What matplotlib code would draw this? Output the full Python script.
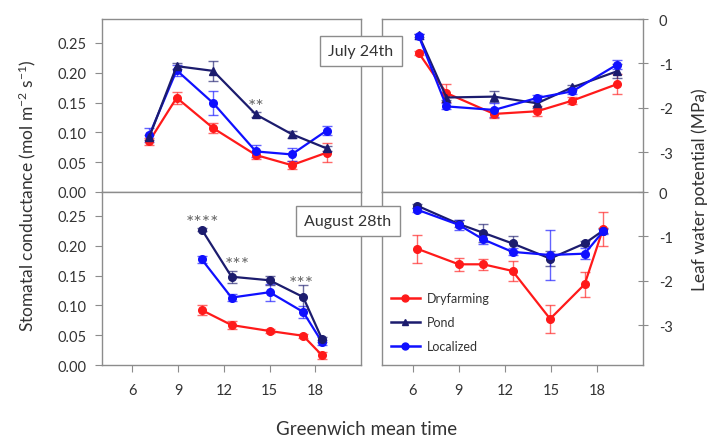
import matplotlib
matplotlib.use("Agg")
import matplotlib.pyplot as plt
from matplotlib.lines import Line2D
from matplotlib.colors import to_rgba

plt.rcParams['font.family'] = ['Lato', 'DejaVu Sans']
plt.rcParams['mathtext.fontset'] = 'custom'
plt.rcParams['mathtext.rm'] = 'Lato'
plt.rcParams['mathtext.it'] = 'Lato:italic'
plt.rcParams['mathtext.bf'] = 'Lato:bold'

# ---------------- data ----------------
series = ["Dryfarming", "Pond", "Localized"]

# July 24th - stomatal conductance
jul_gs_time = [7.1, 8.9, 11.3, 14.1, 16.45, 18.75]
jul_gs_dry = [0.085, 0.158, 0.107, 0.062, 0.045, 0.066]
jul_gs_dry_err = [0.006, 0.010, 0.008, 0.006, 0.007, 0.016]
jul_gs_pond = [0.092, 0.211, 0.203, 0.130, 0.097, 0.073]
jul_gs_pond_err = [0.004, 0.005, 0.017, 0.004, 0.006, 0.004]
jul_gs_loc = [0.095, 0.204, 0.149, 0.068, 0.063, 0.103]
jul_gs_loc_err = [0.012, 0.009, 0.020, 0.010, 0.011, 0.008]

# July 24th - leaf water potential
jul_lwp_time = [6.4, 8.2, 11.3, 14.1, 16.4, 19.3]
jul_lwp_dry = [-0.77, -1.67, -2.14, -2.08, -1.84, -1.47]
jul_lwp_dry_err = [0.05, 0.20, 0.10, 0.11, 0.08, 0.22]
jul_lwp_pond = [-0.37, -1.77, -1.75, -1.90, -1.54, -1.18]
jul_lwp_pond_err = [0.04, 0.06, 0.13, 0.10, 0.06, 0.16]
jul_lwp_loc = [-0.39, -1.97, -2.05, -1.78, -1.63, -1.03]
jul_lwp_loc_err = [0.05, 0.07, 0.15, 0.07, 0.07, 0.10]

# August 28th - stomatal conductance
aug_gs_time = [10.55, 12.5, 15.0, 17.2, 18.45]
aug_gs_dry = [0.092, 0.067, 0.057, 0.049, 0.016]
aug_gs_dry_err = [0.009, 0.006, 0.004, 0.003, 0.006]
aug_gs_pond = [0.227, 0.148, 0.142, 0.114, 0.043]
aug_gs_pond_err = [0.003, 0.010, 0.008, 0.020, 0.004]
aug_gs_loc = [0.177, 0.113, 0.122, 0.089, 0.038]
aug_gs_loc_err = [0.006, 0.006, 0.014, 0.010, 0.004]

# August 28th - leaf water potential
aug_lwp_time = [6.3, 9.0, 10.6, 12.5, 14.95, 17.2, 18.4]
aug_lwp_dry = [-1.28, -1.63, -1.63, -1.78, -2.86, -2.08, -0.83]
aug_lwp_dry_err = [0.32, 0.14, 0.12, 0.23, 0.32, 0.28, 0.38]
aug_lwp_pond = [-0.31, -0.72, -0.92, -1.16, -1.50, -1.16, -0.87]
aug_lwp_pond_err = [0.04, 0.08, 0.20, 0.16, 0.17, 0.06, 0.05]
aug_lwp_loc = [-0.40, -0.74, -1.07, -1.35, -1.42, -1.39, -0.89]
aug_lwp_loc_err = [0.04, 0.12, 0.10, 0.08, 0.56, 0.12, 0.05]

# significance marks (time, value, text)
jul_sig = [(14.1, 0.150, "**")]
aug_sig = [(10.6, 0.245, "****"), (12.9, 0.174, "***"), (17.1, 0.142, "***")]

x_ticks = [6, 9, 12, 15, 18]
top_ticks = [6.9, 9.7, 12.5, 15.4, 18.2]
gs_ticks = [0.00, 0.05, 0.10, 0.15, 0.20, 0.25]
lwp_ticks = [0, -1, -2, -3]

# ---------------- style ----------------
C_DRY = "#ff1a1a"
C_POND = "#1c1c6e"
C_LOC = "#1010ff"
SPINE = "#8c8c8c"
TXT = "#333333"

W, H = 707, 439
fig = plt.figure(figsize=(W / 100, H / 100), dpi=100)


def ax_at(x0, y0, x1, y1):
    return fig.add_axes([x0 / W, 1 - y1 / H, (x1 - x0) / W, (y1 - y0) / H])


ax_tl = ax_at(102, 20, 361, 193)
ax_bl = ax_at(102, 193, 361, 366)
ax_tr = ax_at(382, 20, 643, 193)
ax_br = ax_at(382, 193, 643, 366)


def draw(ax, t, vals, errs, color, marker):
    ax.errorbar(t, vals, yerr=errs, color=color, marker=marker, markersize=5.5,
                lw=1.6, elinewidth=1.0, capsize=3.5, capthick=1.0,
                ecolor=to_rgba(color, 0.65), zorder=3)


def style(ax, right=False, top=False):
    for s in ax.spines.values():
        s.set_color(SPINE)
        s.set_linewidth(1.0)
    ax.set_xlim(4, 21)
    if top:
        ax.set_xticks(top_ticks)
        ax.set_xticklabels([])
    else:
        ax.set_xticks(x_ticks)
        ax.set_xticklabels([str(v) for v in x_ticks])
    ax.tick_params(axis='x', direction='out', length=5, color=SPINE,
                   labelsize=10.5, labelcolor=TXT, pad=8)
    if right:
        ax.set_ylim(-3.9, 0)
        ax.yaxis.tick_right()
        ax.set_yticks(lwp_ticks)
        ax.set_yticklabels(["0", "-1", "-2", "-3"])
        ax.tick_params(axis='y', direction='inout', length=7, color=SPINE,
                       labelsize=10.5, labelcolor=TXT, pad=8)
    else:
        ax.set_ylim(0, 0.29)
        ax.set_yticks(gs_ticks)
        ax.set_yticklabels([f"{v:.2f}" for v in gs_ticks])
        ax.tick_params(axis='y', direction='out', length=5, color=SPINE,
                       labelsize=10.5, labelcolor=TXT, pad=6)


def stars(ax, marks):
    for tx, ty, s in marks:
        ax.text(tx, ty - 0.006, s, ha='center', va='center', fontsize=14,
                color='#666666')


# top-left
draw(ax_tl, jul_gs_time, jul_gs_dry, jul_gs_dry_err, C_DRY, 'o')
draw(ax_tl, jul_gs_time, jul_gs_loc, jul_gs_loc_err, C_LOC, 'o')
draw(ax_tl, jul_gs_time, jul_gs_pond, jul_gs_pond_err, C_POND, '^')
stars(ax_tl, jul_sig)
style(ax_tl, top=True)

# bottom-left
draw(ax_bl, aug_gs_time, aug_gs_dry, aug_gs_dry_err, C_DRY, 'o')
draw(ax_bl, aug_gs_time, aug_gs_loc, aug_gs_loc_err, C_LOC, 'o')
draw(ax_bl, aug_gs_time, aug_gs_pond, aug_gs_pond_err, C_POND, 'o')
stars(ax_bl, aug_sig)
style(ax_bl)

# top-right
draw(ax_tr, jul_lwp_time, jul_lwp_dry, jul_lwp_dry_err, C_DRY, 'o')
draw(ax_tr, jul_lwp_time, jul_lwp_pond, jul_lwp_pond_err, C_POND, '^')
draw(ax_tr, jul_lwp_time, jul_lwp_loc, jul_lwp_loc_err, C_LOC, 'o')
style(ax_tr, right=True, top=True)

# bottom-right
draw(ax_br, aug_lwp_time, aug_lwp_dry, aug_lwp_dry_err, C_DRY, 'o')
draw(ax_br, aug_lwp_time, aug_lwp_pond, aug_lwp_pond_err, C_POND, 'o')
draw(ax_br, aug_lwp_time, aug_lwp_loc, aug_lwp_loc_err, C_LOC, 'o')
style(ax_br, right=True)

handles = [Line2D([], [], color=C_DRY, marker='o', markersize=5, lw=1.8),
           Line2D([], [], color=C_POND, marker='^', markersize=5, lw=1.8),
           Line2D([], [], color=C_LOC, marker='o', markersize=5, lw=1.8)]
ax_br.legend(handles, series, loc='lower left', bbox_to_anchor=(0.0, 0.025),
             frameon=False, fontsize=9, handlelength=2.3, handletextpad=0.6,
             labelspacing=0.95, labelcolor=TXT, borderaxespad=0.3)

# date boxes
box = dict(boxstyle='square,pad=0.5', fc='white', ec=SPINE, lw=1.0)
fig.text(361 / W, 1 - 52 / H, "July 24th", ha='center', va='center',
         fontsize=11.5, color=TXT, bbox=box)
fig.text(348 / W, 1 - 222 / H, "August 28th", ha='center', va='center',
         fontsize=11.5, color=TXT, bbox=box)

# axis labels
fig.text(27 / W, 1 - 196 / H, r"Stomatal conductance (mol m$^{\mathrm{-2}}$ s$^{\mathrm{-1}}$)",
         rotation=90, ha='center', va='center', fontsize=12.5, color=TXT)
fig.text(700 / W, 1 - 190 / H, "Leaf water potential (MPa)",
         rotation=90, ha='center', va='center', fontsize=12.5, color=TXT)
fig.text(367 / W, 1 - 430 / H, "Greenwich mean time", ha='center', va='center',
         fontsize=13.5, color=TXT)

fig.savefig("out.png", dpi=100)
